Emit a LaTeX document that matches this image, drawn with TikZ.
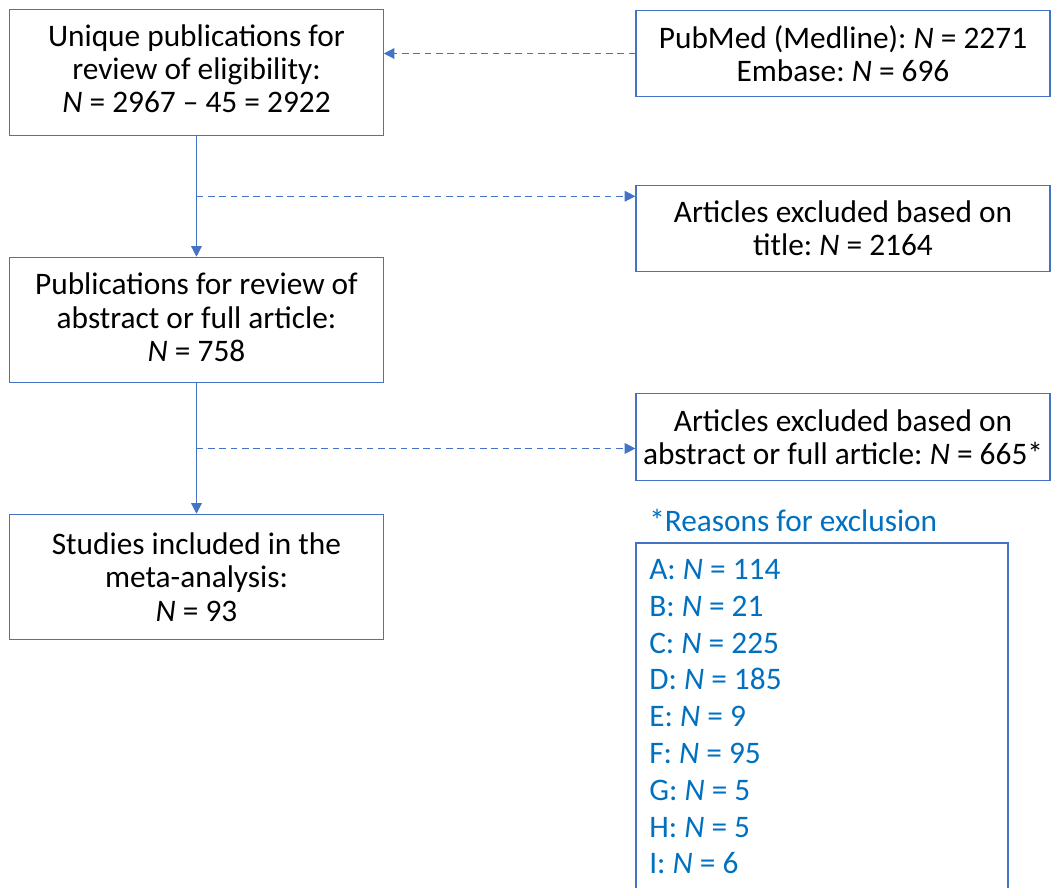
\documentclass[tikz,border=0pt]{standalone}
\usepackage{fontspec}
\setmainfont{Carlito}
\usepackage{xcolor}
\usetikzlibrary{positioning,calc,arrows.meta}
\definecolor{lineblue}{HTML}{4472C4}
\definecolor{noteblue}{HTML}{0070C0}
\frenchspacing
\tikzset{
  flowbox/.style={draw=lineblue, line width=0.9pt, align=center, inner sep=0pt,
    font=\fontsize{23.5}{25}\selectfont},
  leftbox/.style={flowbox, minimum width=280pt, minimum height=94pt},
  rightbox/.style={flowbox, minimum width=310.5pt, minimum height=65pt},
  solidarrow/.style={draw=lineblue, line width=0.9pt, -{Triangle[length=8pt,width=8pt]}},
  dasharrow/.style={solidarrow, dash pattern=on 5pt off 3.5pt}
}
\begin{document}
\begin{tikzpicture}[x=0.75pt,y=-0.75pt]
\useasboundingbox (0,0) rectangle (1051,888);

% main column
\node[leftbox, text depth=6pt] (unique) at (196.5,72.5) {Unique publications for\\review of eligibility:\\\textit{N} = 2967 -- 45 = 2922};
\node[leftbox, text depth=4pt] (review) at (196.5,320) {Publications for review of\\abstract or full article:\\\textit{N} = 758};
\node[leftbox] (included) at (196.5,577) {Studies included in the\\meta-analysis:\\\textit{N} = 93};

% side boxes
\node[rightbox] (sources) at (843,53.5) {PubMed (Medline): \textit{N} = 2271\\Embase: \textit{N} = 696};
\node[rightbox] (extitle) at (843,228.5) {Articles excluded based on\\title: \textit{N} = 2164};
\node[rightbox] (exabstract) at (843,437) {Articles excluded based on\\abstract or full article: \textit{N} = 665*};

% reasons
\node[anchor=west, text=noteblue, font=\fontsize{23.5}{25}\selectfont, inner sep=0pt] (reasonhead) at (649,520) {*Reasons for exclusion};
\draw[lineblue, line width=0.9pt] (636,900) -- (636,543) -- (1008,543) -- (1008,900);
\node[anchor=north west, text=noteblue, align=left, inner sep=0pt,
  font=\fontsize{23.5}{27.6}\selectfont] (reasons) at (649,559) {%
  A: \textit{N} = 114\\B: \textit{N} = 21\\C: \textit{N} = 225\\D: \textit{N} = 185\\E: \textit{N} = 9\\%
  F: \textit{N} = 95\\G: \textit{N} = 5\\H: \textit{N} = 5\\I: \textit{N} = 6};

% connectors
\coordinate (split1) at ($(unique.south)!0.5!(review.north)$);
\coordinate (split2) at ($(review.south)!0.5!(included.north)$);
\draw[solidarrow] (unique.south) -- (review.north);
\draw[solidarrow] (review.south) -- (included.north);
\draw[dasharrow] (sources.west) -- (sources.west -| unique.east);
\draw[dasharrow] (split1) -- (split1 -| extitle.west);
\draw[dasharrow] (split2) -- (split2 -| exabstract.west);
\end{tikzpicture}
\end{document}
